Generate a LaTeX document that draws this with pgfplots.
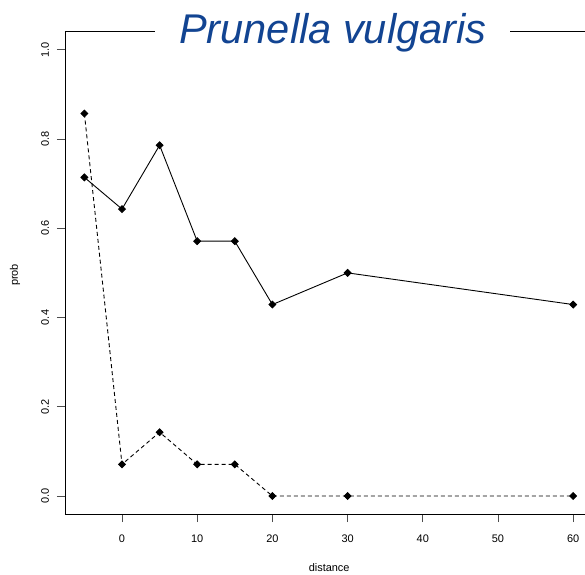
\documentclass[border=0pt]{standalone}
\usepackage{fontspec}
\setmainfont{Liberation Sans}
\usepackage{pgfplots}
\pgfplotsset{compat=1.18}
\definecolor{titleblue}{RGB}{18,68,146}

\begin{document}
\begin{tikzpicture}
% page = 585 x 575 px, axis box starts 65 px in, ends at right edge
\useasboundingbox (-65bp,-61bp) rectangle (520bp,514bp);
\begin{axis}[
    at={(0,0)}, anchor=south west,
    scale only axis,
    width=520bp, height=483bp,
    xmin=-7.58, xmax=61.57,
    ymin=-0.0403, ymax=1.042,
    axis x line*=bottom, axis y line*=left,
    axis line style={line width=0.9bp, -},
    tick align=outside,
    major tick length=8bp,
    tick style={line width=0.9bp, black!70},
    xtick={0,10,...,60},
    ytick={0,0.2,0.4,0.6,0.8,1.0},
    yticklabel style={/pgf/number format/fixed, /pgf/number format/fixed zerofill,
        /pgf/number format/precision=1, rotate=90, anchor=center, yshift=12bp},
    xticklabel style={anchor=center, yshift=-17bp},
    /pgf/number format/assume math mode=true,
    tick label style={font=\fontsize{11}{13}\selectfont},
    label style={font=\fontsize{11}{13}\selectfont},
    xlabel={distance},
    ylabel={prob},
    xlabel style={at={(axis description cs:0.508,0)}, anchor=center, yshift=-54bp},
    ylabel style={at={(axis description cs:0,0.495)}, anchor=center, yshift=50bp},
    clip=false,
]
\addplot[black, line width=0.9bp, mark=square*, mark size=2.4bp,
    mark options={rotate=45}] coordinates {
    (-5,0.714) (0,0.643) (5,0.786) (10,0.571) (15,0.571) (20,0.429) (30,0.5) (60,0.429)};
\addplot[black, line width=0.9bp, dash pattern=on 4bp off 3bp, mark=square*, mark size=2.4bp,
    mark options={solid, rotate=45}] coordinates {
    (-5,0.857) (0,0.071) (5,0.143) (10,0.071) (15,0.071) (20,0) (30,0) (60,0)};
\draw[line width=0.9bp] (rel axis cs:0,1) -- (rel axis cs:1,1);
\node[fill=white, inner xsep=24bp, inner ysep=2bp, anchor=base, text=titleblue,
    font=\fontsize{41.7}{45}\selectfont\itshape]
    at ([yshift=-13bp]rel axis cs:0.515,1) {Prunella vulgaris};
\end{axis}
\end{tikzpicture}
\end{document}
